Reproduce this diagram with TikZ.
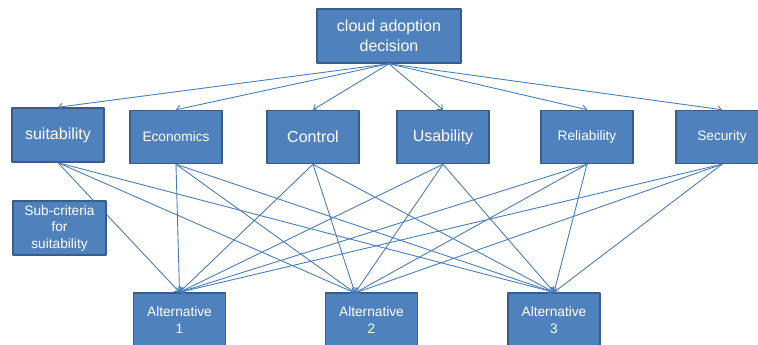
\documentclass[tikz,border=0pt]{standalone}
\usepackage{fontspec}
\setmainfont{Liberation Sans}
\usetikzlibrary{arrows.meta}
\definecolor{boxfill}{RGB}{79,129,189}
\definecolor{boxline}{RGB}{56,93,138}
\definecolor{arrline}{RGB}{74,126,187}
\begin{document}
\begin{tikzpicture}[line cap=round,line join=round,>={Straight Barb[length=4pt,width=7pt]},x=1pt,y=1pt,
		critbox/.style={draw=boxline,fill=boxfill,line width=1.5pt,text=white,align=center,minimum width=92pt,minimum height=53pt,inner sep=2pt},
		bigtext/.style={font=\fontsize{16}{19.5}\selectfont},
		smalltext/.style={font=\fontsize{13.7}{16.5}\selectfont},
		link/.style={->,draw=arrline,line width=0.9pt}]
				\clip(0,0) rectangle (758,345);
				\node[critbox,bigtext,minimum width=144pt,minimum height=54pt] (goal) at (389,309) {cloud adoption\\decision};
				\node[critbox,bigtext,minimum height=54pt] (suit) at (58,210) {suitability};
				\node[critbox,smalltext] (econ) at (176,208) {Economics};
				\node[critbox,bigtext] (ctrl) at (313,208) {Control};
				\node[critbox,bigtext] (usab) at (443,208) {Usability};
				\node[critbox,smalltext] (reli) at (587,208) {Reliability};
				\node[critbox,smalltext] (secu) at (722,208) {Security};
				\node[critbox,smalltext,minimum height=54pt] (alta) at (179.5,25) {Alternative\\1};
				\node[critbox,smalltext,minimum height=54pt] (altb) at (371.5,25) {Alternative\\2};
				\node[critbox,smalltext,minimum height=54pt] (altc) at (554,25) {Alternative\\3};
				\coordinate (inb) at (355,52);
				% goal to criteria
				\draw [link] (goal.south) -- (suit.north);
				\draw [link] (goal.south) -- (econ.north);
				\draw [link] (goal.south) -- (ctrl.north);
				\draw [link] (goal.south) -- (usab.north);
				\draw [link] (goal.south) -- (reli.north);
				\draw [link] (goal.south) -- (secu.north);
				% criteria to alternatives
				\draw [link] (suit.south) -- (alta.north);
				\draw [link] (suit.south) -- (inb);
				\draw [link] (suit.south) -- (altc.north);
				\draw [link] (econ.south) -- (alta.north);
				\draw [link] (econ.south) -- (inb);
				\draw [link] (econ.south) -- (altc.north);
				\draw [link] (ctrl.south) -- (alta.north);
				\draw [link] (ctrl.south) -- (inb);
				\draw [link] (ctrl.south) -- (altc.north);
				\draw [link] (usab.south) -- (alta.north);
				\draw [link] (usab.south) -- (inb);
				\draw [link] (usab.south) -- (altc.north);
				\draw [link] (reli.south) -- (alta.north);
				\draw [link] (reli.south) -- (inb);
				\draw [link] (reli.south) -- (altc.north);
				\draw [link] (secu.south) -- (alta.north);
				\draw [link] (secu.south) -- (inb);
				\draw [link] (secu.south) -- (altc.north);
				% sub-criteria box sits over the suitability line
				\node[critbox,smalltext,minimum width=93pt,minimum height=54pt] (subc) at (59.5,117) {Sub-criteria\\for\\suitability};
			\end{tikzpicture}
\end{document}
